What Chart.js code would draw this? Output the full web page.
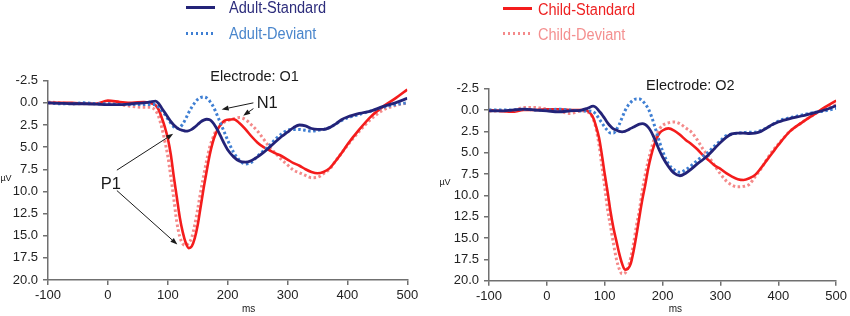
<!DOCTYPE html>
<html>
<head>
<meta charset="utf-8">
<script src="https://cdn.jsdelivr.net/npm/chart.js@4.4.0/dist/chart.umd.min.js"></script>
<style>
  body { margin: 0; background: #fff; font-family: "Liberation Sans", Arial, sans-serif; }
  #wrap { position: relative; width: 850px; height: 316px; overflow: hidden; }
  #wrap canvas { position: absolute; left: 0; top: 0; }
  .key { position: absolute; height: 20px; width: 160px; }
  .key .line { position: absolute; left: 0; width: 29px; height: 3px; }
  .key span { position: absolute; top: 0; font-size: 16px; line-height: 20px; white-space: nowrap;
              transform: scaleX(0.91); transform-origin: left center; }
</style>
</head>
<body>
<div id="wrap">
  <canvas id="o1" width="850" height="316"></canvas>
  <canvas id="o2" width="850" height="316"></canvas>

  <div class="key" style="left:186px; top:-2px;">
    <div class="line" style="top:7.5px; background:#232378;"></div>
    <span style="left:43px; color:#2d2d7c;">Adult-Standard</span>
  </div>
  <div class="key" style="left:186px; top:24px;">
    <div class="line" style="top:7.5px; background:repeating-linear-gradient(90deg,#3f7fd3 0 2.5px,transparent 2.5px 5px);"></div>
    <span style="left:43px; color:#4a86cc;">Adult-Deviant</span>
  </div>
  <div class="key" style="left:503px; top:0px;">
    <div class="line" style="top:6.8px; background:#f41c1c;"></div>
    <span style="left:35px; color:#ee2222;">Child-Standard</span>
  </div>
  <div class="key" style="left:503px; top:24.5px;">
    <div class="line" style="top:7.3px; background:repeating-linear-gradient(90deg,#f48a8a 0 2.5px,transparent 2.5px 5px);"></div>
    <span style="left:35px; color:#f49090;">Child-Deviant</span>
  </div>
</div>

<script>
// time axis (ms), shared by all series
const times = [-100, -80, -60, -40, -20, 0, 20, 40, 60, 70, 80,
  85, 90, 95, 100, 105, 110, 115, 120, 125, 130, 135, 140, 145, 150, 155, 160,
  165, 170, 175, 180, 185, 190, 195, 200,
  210, 220, 230, 240, 250, 260, 270, 280, 290, 300, 310, 320, 330, 340, 350,
  360, 370, 380, 390, 400, 420, 440, 460, 480, 500];

const xTicks = [-100, 0, 100, 200, 300, 400, 500];
const yTicks = [-2.5, 0, 2.5, 5, 7.5, 10, 12.5, 15, 17.5, 20];

// Electrode O1 (µV)
const o1AdultStd = [0.0, 0.05, 0.1, 0.1, 0.15, 0.2, 0.2, 0.1, 0.0, -0.1, -0.2,
  0.1, 0.6, 1.1, 1.6, 2.1, 2.5, 2.8, 3.0, 3.1, 3.2, 3.15, 3.0, 2.75, 2.45, 2.15, 1.95,
  1.85, 1.9, 2.2, 2.7, 3.3, 4.0, 4.7, 5.3,
  6.1, 6.6, 6.7, 6.5, 6.1, 5.6, 5.0, 4.4, 3.8, 3.3, 2.8, 2.5, 2.6, 2.9, 3.0,
  3.0, 2.8, 2.4, 1.9, 1.6, 1.2, 0.9, 0.4, 0.0, -0.5];
const o1AdultDev = [0.0, 0.1, 0.1, 0.0, 0.1, 0.1, 0.2, 0.2, 0.2, 0.2, 0.2,
  0.5, 0.9, 1.3, 1.8, 2.3, 2.7, 2.9, 2.8, 2.4, 1.8, 1.1, 0.5, 0.0, -0.4, -0.6, -0.65,
  -0.55, -0.2, 0.3, 1.0, 1.8, 2.6, 3.4, 4.2,
  5.6, 6.5, 6.9, 6.7, 6.0, 5.4, 4.8, 4.1, 3.5, 3.1, 3.0, 3.0, 3.1, 3.2, 3.1,
  3.0, 2.8, 2.4, 2.0, 1.7, 1.3, 0.9, 0.5, 0.2, 0.0];
const o1ChildStd = [0.0, 0.0, 0.0, 0.1, 0.1, -0.25, -0.1, 0.0, -0.1, 0.0, 0.3,
  0.8, 1.7, 2.7, 4.0, 5.8, 8.3, 10.6, 12.9, 14.6, 15.8, 16.4, 16.2, 15.3, 13.8, 11.7, 9.6,
  7.7, 5.9, 4.5, 3.5, 2.8, 2.3, 2.0, 1.9,
  1.85, 2.3, 3.0, 3.8, 4.5, 5.0, 5.35, 5.7, 6.0, 6.4, 6.8, 7.1, 7.5, 7.8, 7.95,
  7.8, 7.4, 6.6, 5.7, 4.7, 3.0, 1.5, 0.4, -0.5, -1.5];
const o1ChildDev = [-0.1, 0.0, 0.1, 0.1, 0.1, 0.1, 0.2, 0.4, 0.5, 0.5, 0.9,
  1.6, 2.8, 4.3, 6.0, 8.3, 10.8, 13.4, 15.1, 15.9, 16.1, 15.8, 15.2, 13.8, 12.0, 10.0, 8.2,
  6.5, 5.0, 4.0, 3.2, 2.7, 2.4, 2.15, 2.0,
  1.8, 1.65, 1.9, 2.5, 3.2, 4.1, 5.0, 5.7, 6.4, 7.0, 7.6, 7.9, 8.2, 8.45, 8.4,
  8.0, 7.5, 6.6, 5.7, 4.8, 3.2, 1.8, 0.8, 0.3, 0.0];

// Electrode O2 (µV)
const o2AdultStd = [0.1, 0.1, 0.0, -0.1, 0.0, 0.1, 0.2, 0.1, 0.0, -0.2, -0.45,
  -0.3, 0.1, 0.5, 1.0, 1.5, 1.9, 2.2, 2.35, 2.5, 2.55, 2.5, 2.35, 2.15, 2.0, 1.8, 1.65,
  1.6, 1.7, 2.0, 2.5, 3.2, 4.0, 4.8, 5.5,
  6.6, 7.4, 7.7, 7.4, 6.9, 6.3, 5.8, 5.2, 4.5, 3.8, 3.2, 2.8, 2.7, 2.7, 2.75,
  2.7, 2.5, 2.1, 1.7, 1.4, 1.0, 0.7, 0.35, 0.0, -0.5];
const o2AdultDev = [0.0, 0.0, 0.0, -0.1, 0.0, 0.0, -0.1, 0.0, 0.1, 0.1, 0.2,
  0.5, 1.0, 1.5, 2.0, 2.4, 2.7, 2.7, 2.3, 1.7, 0.9, 0.1, -0.5, -0.9, -1.2, -1.3, -1.3,
  -1.1, -0.7, -0.2, 0.6, 1.6, 2.7, 3.8, 4.8,
  6.3, 7.0, 7.3, 7.0, 6.5, 5.9, 5.4, 4.9, 4.2, 3.6, 3.0, 2.8, 2.7, 2.65, 2.6,
  2.6, 2.4, 2.1, 1.7, 1.3, 0.9, 0.6, 0.3, 0.1, -0.2];
const o2ChildStd = [0.0, 0.1, 0.2, 0.0, 0.0, -0.1, -0.1, 0.0, 0.0, 0.1, 0.9,
  1.9, 3.2, 5.2, 7.5, 9.6, 11.9, 13.8, 15.3, 16.8, 18.0, 18.7, 18.6, 18.0, 16.5, 14.6, 12.5,
  10.5, 8.8, 6.9, 5.4, 4.2, 3.3, 2.7, 2.4,
  2.15, 2.4, 2.9, 3.5, 4.0, 4.6, 5.3, 5.9, 6.5, 6.9, 7.4, 7.8, 8.1, 8.2, 8.0,
  7.6, 6.8, 5.9, 5.0, 4.1, 2.5, 1.5, 0.6, -0.3, -1.1];
const o2ChildDev = [0.1, 0.1, 0.1, -0.3, -0.3, -0.1, 0.1, 0.4, 0.1, 0.2, 1.0,
  2.2, 4.0, 6.5, 9.0, 11.7, 13.6, 15.6, 17.4, 18.6, 19.2, 19.1, 18.5, 17.3, 15.6, 13.5, 11.7,
  9.4, 7.6, 6.0, 4.7, 3.5, 2.8, 2.2, 1.8,
  1.5, 1.4, 1.6, 2.1, 2.6, 3.5, 4.6, 5.5, 6.5, 7.5, 8.3, 8.8, 9.0, 8.95, 8.7,
  7.8, 6.9, 5.8, 4.8, 4.0, 2.5, 1.5, 0.6, -0.1, -0.6];

const FONT = '"Liberation Sans", Arial, sans-serif';
Chart.defaults.font.family = FONT;

const pts = (vals) => times.map((t, i) => ({ x: t, y: vals[i] }));

function series(adultStd, adultDev, childStd, childDev) {
  const base = { pointRadius: 0, borderWidth: 2.6, cubicInterpolationMode: "monotone", fill: false };
  return [
    { ...base, label: "Adult-Standard", data: pts(adultStd), borderColor: "#232378", borderWidth: 2.8 },
    { ...base, label: "Adult-Deviant", data: pts(adultDev), borderColor: "#3f7fd3", borderDash: [2.5, 2.5], borderWidth: 3 },
    { ...base, label: "Child-Standard", data: pts(childStd), borderColor: "#f41c1c" },
    { ...base, label: "Child-Deviant", data: pts(childDev), borderColor: "#f48a8a", borderDash: [2.5, 2.5], borderWidth: 3 },
  ];
}

function drawArrow(ctx, x1, y1, x2, y2) {
  const a = Math.atan2(y2 - y1, x2 - x1);
  const head = 7, wing = 2.6;
  const bx = x2 - head * Math.cos(a), by = y2 - head * Math.sin(a);
  ctx.beginPath();
  ctx.moveTo(x1, y1);
  ctx.lineTo(bx, by);
  ctx.stroke();
  ctx.beginPath();
  ctx.moveTo(x2, y2);
  ctx.lineTo(bx + wing * Math.sin(a), by - wing * Math.cos(a));
  ctx.lineTo(bx - wing * Math.sin(a), by + wing * Math.cos(a));
  ctx.closePath();
  ctx.fill();
}

// titles, unit labels and P1/N1 pointers, placed in data units
const notes = {
  id: "notes",
  afterDraw(chart, args, opts) {
    const { ctx, chartArea, scales: { x, y } } = chart;
    ctx.save();
    ctx.fillStyle = "#1a1a1a";
    ctx.strokeStyle = "#1a1a1a";
    ctx.lineWidth = 1;
    ctx.textAlign = "center";
    ctx.textBaseline = "middle";

    ctx.font = "14.5px " + FONT;
    ctx.fillText(opts.title, x.getPixelForValue(opts.titleAt[0]), y.getPixelForValue(opts.titleAt[1]));

    ctx.font = "9px " + FONT;
    ctx.fillText("µV", chartArea.left + opts.unitYOffset, y.getPixelForValue(8.5));
    ctx.font = "10px " + FONT;
    ctx.fillText("ms", x.getPixelForValue(opts.unitXAt), chartArea.bottom + 29);

    (opts.labels || []).forEach((l) => {
      ctx.font = "16.5px " + FONT;
      ctx.fillText(l.text, x.getPixelForValue(l.at[0]), y.getPixelForValue(l.at[1]));
    });
    (opts.arrows || []).forEach((a) => {
      drawArrow(ctx,
        x.getPixelForValue(a.from[0]), y.getPixelForValue(a.from[1]),
        x.getPixelForValue(a.to[0]), y.getPixelForValue(a.to[1]));
    });
    ctx.restore();
  },
};

function makePanel(id, datasets, pad, xAxisH, noteOpts) {
  const axisColor = "#707070";
  return new Chart(document.getElementById(id), {
    type: "line",
    data: { datasets: datasets },
    plugins: [notes],
    options: {
      responsive: false,
      animation: false,
      layout: { padding: pad },
      plugins: {
        legend: { display: false },
        tooltip: { enabled: false },
        notes: noteOpts,
      },
      scales: {
        x: {
          type: "linear",
          min: xTicks[0],
          max: xTicks[xTicks.length - 1],
          afterBuildTicks: (s) => { s.ticks = xTicks.map((v) => ({ value: v })); },
          ticks: { color: "#222", font: { size: 13 }, padding: 3, maxRotation: 0, autoSkip: false },
          grid: { drawOnChartArea: false, drawTicks: true, tickLength: 5, color: axisColor, lineWidth: 1.5 },
          border: { color: axisColor, width: 1.5 },
          afterFit: (s) => { s.height = xAxisH; },
        },
        y: {
          type: "linear",
          reverse: true,
          min: yTicks[0],
          max: yTicks[yTicks.length - 1],
          afterBuildTicks: (s) => { s.ticks = yTicks.map((v) => ({ value: v })); },
          ticks: { color: "#222", font: { size: 13 }, padding: 5, callback: (v) => v.toFixed(1) },
          grid: { drawOnChartArea: false, drawTicks: true, tickLength: 5, color: axisColor, lineWidth: 1.5 },
          border: { color: axisColor, width: 1.5 },
          afterFit: (s) => { s.width = 48; },
        },
      },
    },
  });
}

makePanel("o1", series(o1AdultStd, o1AdultDev, o1ChildStd, o1ChildDev),
  { left: 0, right: 442.7, top: 80.7, bottom: 0 }, 36,
  {
    title: "Electrode: O1",
    titleAt: [245, -2.9],
    unitYOffset: -42,
    unitXAt: 235,
    labels: [
      { text: "N1", at: [266, 0.1] },
      { text: "P1", at: [5, 9.25] },
    ],
    arrows: [
      { from: [243, 0.0], to: [190, 0.75] },
      { from: [243, 0.65], to: [226, 1.45] },
      { from: [15, 7.6], to: [109, 3.5] },
      { from: [15, 9.9], to: [116, 16.0] },
    ],
  });

makePanel("o2", series(o2AdultStd, o2AdultDev, o2ChildStd, o2ChildDev),
  { left: 441, right: 11.5, top: 88.7, bottom: 0 }, 35.3,
  {
    title: "Electrode: O2",
    titleAt: [248, -2.8],
    unitYOffset: -44,
    unitXAt: 222,
  });
</script>
</body>
</html>
